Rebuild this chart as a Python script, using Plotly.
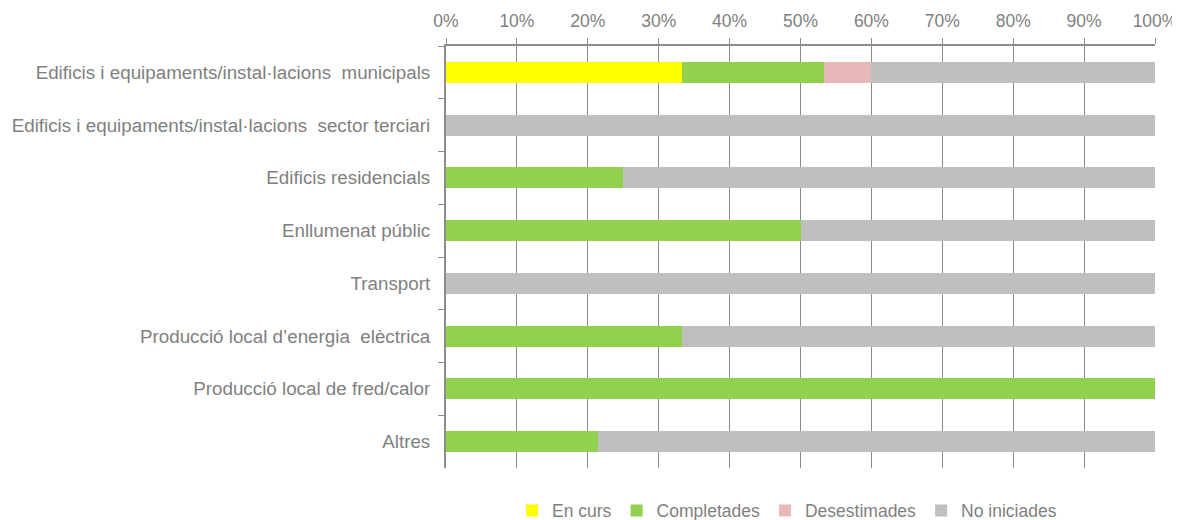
import plotly.graph_objects as go

categories = [
    "Edificis i equipaments/instal·lacions \u00a0municipals",
    "Edificis i equipaments/instal·lacions \u00a0sector terciari",
    "Edificis residencials",
    "Enllumenat públic",
    "Transport",
    "Producció local d’energia \u00a0elèctrica",
    "Producció local de fred/calor",
    "Altres",
]
series_names = ["En curs", "Completades", "Desestimades", "No iniciades"]
en_curs = [0.333, 0, 0, 0, 0, 0, 0, 0]
completades = [0.200, 0, 0.25, 0.50, 0, 0.333, 1.0, 0.214]
desestimades = [0.067, 0, 0, 0, 0, 0, 0, 0]
no_iniciades = [0.400, 1.0, 0.75, 0.50, 1.0, 0.667, 0.0, 0.786]
colors = ["#FFFF00", "#92D050", "#E6B9B8", "#BFBFBF"]
x_ticks = [0, 0.1, 0.2, 0.3, 0.4, 0.5, 0.6, 0.7, 0.8, 0.9, 1.0]

fig = go.Figure()
for name, vals, col in zip(series_names, [en_curs, completades, desestimades, no_iniciades], colors):
    fig.add_trace(go.Bar(
        y=categories, x=vals, name=name, orientation="h",
        marker=dict(color=col, line=dict(width=0)), width=0.4,
    ))

font_fam = "Liberation Sans, Arial, sans-serif"
fs = 18.8
fig.update_layout(
    barmode="stack",
    width=1180, height=520,
    margin=dict(l=438, r=33, t=38, b=60, autoexpand=False),
    paper_bgcolor="white", plot_bgcolor="white",
    font=dict(family=font_fam, size=fs, color="#7F7F7F"),
    showlegend=True,
    legend=dict(orientation="h", x=0.481, xanchor="center", y=-0.101, yanchor="middle",
                font=dict(size=17.5, color="#7F7F7F"), itemwidth=30, traceorder="normal"),
    bargap=0.6,
)
fig.update_xaxes(
    side="top", range=[0, 1], tickvals=x_ticks, tickformat=".0%",
    showgrid=True, gridcolor="#8C8C8C", gridwidth=1,
    showline=True, linecolor="#8C8C8C", linewidth=2,
    ticks="outside", ticklen=6, tickcolor="#8C8C8C", tickwidth=1,
    zeroline=False, fixedrange=True, automargin=False,
    ticklabelstandoff=4,
    tickfont=dict(size=17.5, color="#7F7F7F"),
)
fig.update_yaxes(
    autorange="reversed", showgrid=False, automargin=False,
    showline=True, linecolor="#8C8C8C", linewidth=2,
    ticks="outside", ticklen=6, tickcolor="#8C8C8C", tickson="boundaries",
    ticklabelstandoff=10,
    tickfont=dict(size=fs, color="#7F7F7F"),
)

fig.write_html("out.html")
